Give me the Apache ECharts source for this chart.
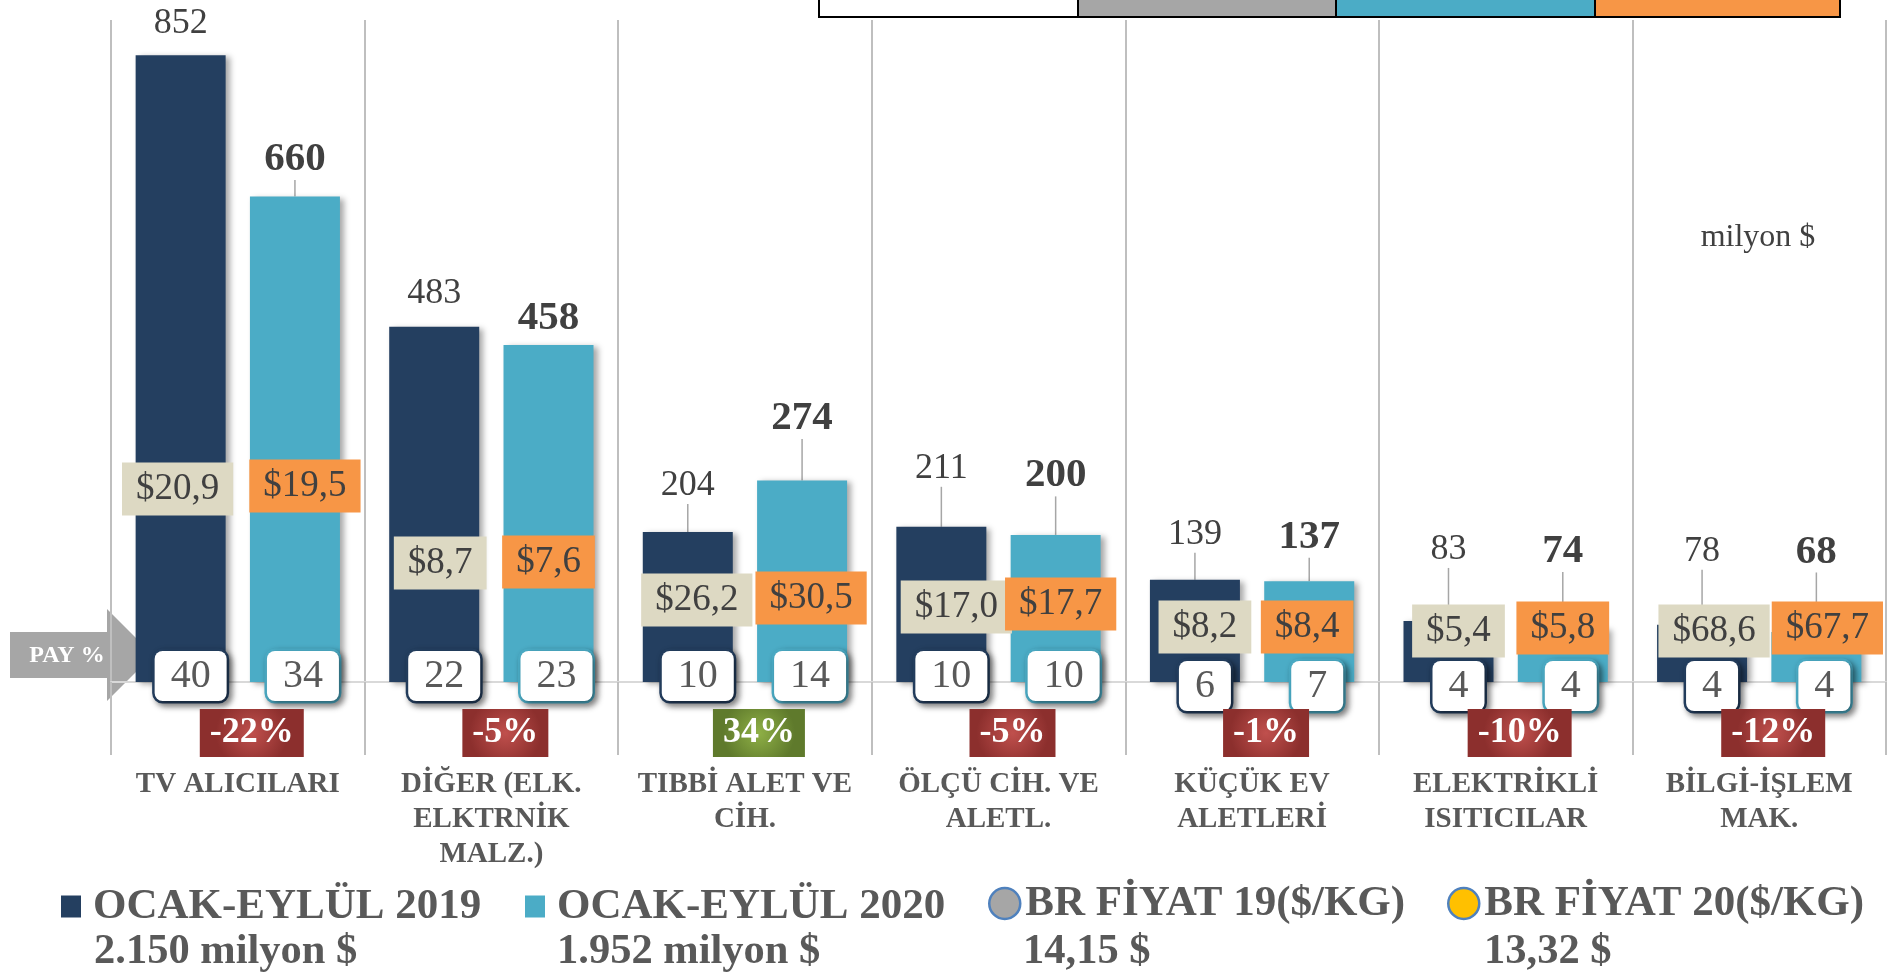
<!DOCTYPE html>
<html>
<head>
<meta charset="utf-8">
<script src="https://cdn.jsdelivr.net/npm/echarts/dist/echarts.min.js"></script>
<style>
  html, body { margin: 0; padding: 0; background: #fff; }
  #chart { width: 1892px; height: 977px; }
</style>
</head>
<body>
<div id="chart"></div>
<script>
// data
var categories = ['TV ALICILARI', 'DİĞER (ELK.\nELKTRNİK\nMALZ.)', 'TIBBİ ALET VE\nCİH.', 'ÖLÇÜ CİH. VE\nALETL.', 'KÜÇÜK EV\nALETLERİ', 'ELEKTRİKLİ\nISITICILAR', 'BİLGİ-İŞLEM\nMAK.'];
var exports2019 = [852, 483, 204, 211, 139, 83, 78];
var exports2020 = [660, 458, 274, 200, 137, 74, 68];
var share2019 = [40, 22, 10, 10, 6, 4, 4];
var share2020 = [34, 23, 14, 10, 7, 4, 4];
var price2019 = [20.9, 8.7, 26.2, 17.0, 8.2, 5.4, 68.6];
var price2020 = [19.5, 7.6, 30.5, 17.7, 8.4, 5.8, 67.7];
var changePct = [-22, -5, 34, -5, -1, -10, -12];
var legendNames = ['OCAK-EYLÜL 2019', 'OCAK-EYLÜL 2020', 'BR FİYAT 19($/KG)', 'BR FİYAT 20($/KG)'];
var legendTotals = ['2.150 milyon $', '1.952 milyon $', '14,15 $', '13,32 $'];

// label placement (pixels), as dragged by hand in the original
var valueLift19 = [32, 33, 46, 58, 45, 71, 73];
var valueLift20 = [37, 27, 62, 59, 44, 76, 80];
var priceLift19 = [193, 119, 82, 75, 55, 51, 51];
var priceLift20 = [196, 120, 84, 78, 55, 54, 54];
var priceShift19 = [-3, 6, 9, 15, 10, 10, 12];
var priceShift20 = [10, 0, 9, 5, -2, 0, 11];
var payDrop = [0, 0, 0, 0, 10, 10, 10];

var FONT = '"Liberation Serif", "Times New Roman", serif';
var DARK = '#243f60';
var TEAL = '#4bacc6';
var TEXT = '#404040';
var GREY_TEXT = '#595959';

var chart = echarts.init(document.getElementById('chart'));

function valueLayout(lift) {
  return function (p) {
    var r = p.rect;
    return { x: r.x + r.width / 2, y: r.y - lift[p.dataIndex], align: 'center', verticalAlign: 'middle' };
  };
}
function priceLayout(lift, shift) {
  return function (p) {
    var r = p.rect;
    return { x: r.x + r.width / 2 + shift[p.dataIndex], y: r.y + r.height - lift[p.dataIndex], align: 'center', verticalAlign: 'middle' };
  };
}
function payLayout(dx) {
  return function (p) {
    var r = p.rect;
    return { x: r.x + r.width / 2 + dx, y: r.y + r.height - 6 + payDrop[p.dataIndex], align: 'center', verticalAlign: 'middle' };
  };
}
function fmtPrice(p) {
  return '$' + p.value.toFixed(1).replace('.', ',');
}
// short hops between label and bar get no leader line
function withLines(values, lift) {
  return values.map(function (v, i) {
    return { value: v, labelLine: { show: lift[i] > 36 } };
  });
}

var hiddenX = function () {
  return { type: 'category', data: categories, show: false, gridIndex: 0 };
};

var redBox = {
  type: 'radial', x: 0.5, y: 0.5, r: 0.75,
  colorStops: [{ offset: 0, color: '#c0504d' }, { offset: 1, color: '#8c2f2d' }]
};
var greenBox = {
  type: 'radial', x: 0.5, y: 0.5, r: 0.75,
  colorStops: [{ offset: 0, color: '#8fb046' }, { offset: 1, color: '#5f7a2c' }]
};

var payLabel = function (border) {
  return {
    show: true,
    formatter: '{c}',
    fontFamily: FONT,
    fontSize: 40,
    color: GREY_TEXT,
    backgroundColor: '#fff',
    borderColor: border,
    borderWidth: 2.5,
    borderRadius: 8,
    padding: [7, 16, 3, 16],
    shadowColor: 'rgba(0,0,0,0.45)',
    shadowBlur: 6,
    shadowOffsetX: 3,
    shadowOffsetY: 3
  };
};
var priceLabel = function (bg) {
  return {
    show: true,
    formatter: fmtPrice,
    fontFamily: FONT,
    fontSize: 37,
    color: TEXT,
    backgroundColor: bg,
    padding: [10, 14, 6, 14]
  };
};
var clear = { color: 'rgba(0,0,0,0)' };

var option = {
  animation: false,
  backgroundColor: '#fff',
  grid: { left: 111, right: 6, top: 20, bottom: 295, containLabel: false, outerBoundsMode: 'none' },
  xAxis: [{
    type: 'category',
    data: categories,
    axisLine: { lineStyle: { color: '#d9d9d9', width: 2 } },
    axisTick: { show: true, length: 73, lineStyle: { color: '#bfbfbf', width: 2 } },
    splitLine: { show: true, lineStyle: { color: '#bfbfbf', width: 2 } },
    axisLabel: {
      interval: 0,
      margin: 85,
      fontFamily: FONT,
      fontSize: 29,
      fontWeight: 'bold',
      color: GREY_TEXT,
      lineHeight: 35
    }
  }, hiddenX(), hiddenX(), hiddenX()],
  yAxis: { type: 'value', min: 0, max: 900, show: false },
  legend: [0, 1, 2, 3].map(function (i) {
    var icons = ['rect', 'rect', 'circle', 'circle'];
    var fills = [DARK, TEAL, '#a6a6a6', '#ffc000'];
    var round = i > 1;
    return {
      left: [61, 525, 988, 1447][i],
      top: round ? 882 : 885,
      padding: 0,
      selectedMode: false,
      itemWidth: round ? 31 : 20,
      itemHeight: round ? 31 : 22,
      textStyle: {
        fontFamily: FONT, fontSize: 43, fontWeight: 'bold', color: GREY_TEXT,
        padding: [round ? 8 : 0, 0, 0, round ? 0 : 7]
      },
      data: [{
        name: legendNames[i],
        icon: icons[i],
        itemStyle: round
          ? { color: fills[i], borderColor: '#4f81bd', borderWidth: 2.5, shadowBlur: 0 }
          : { color: fills[i], borderWidth: 0, shadowBlur: 0 }
      }]
    };
  }),
  graphic: [
    // summary table cut at the top edge
    { type: 'rect', shape: { x: 819, y: -10, width: 259, height: 27 }, style: { fill: '#fff', stroke: '#000', lineWidth: 2 } },
    { type: 'rect', shape: { x: 1078, y: -10, width: 258, height: 27 }, style: { fill: '#a6a6a6', stroke: '#000', lineWidth: 2 } },
    { type: 'rect', shape: { x: 1336, y: -10, width: 259, height: 27 }, style: { fill: TEAL, stroke: '#000', lineWidth: 2 } },
    { type: 'rect', shape: { x: 1595, y: -10, width: 245, height: 27 }, style: { fill: '#f79646', stroke: '#000', lineWidth: 2 } },
    // PAY % arrow
    {
      type: 'polygon',
      shape: { points: [[10, 632], [107, 632], [107, 609], [153, 655], [107, 701], [107, 678], [10, 678]] },
      style: { fill: '#a6a6a6' }
    },
    { type: 'text', x: 67, y: 656, style: { text: 'PAY %', fill: '#fff', font: 'bold 24px ' + FONT, align: 'center', verticalAlign: 'middle' } },
    { type: 'text', x: 1758, y: 238, style: { text: 'milyon $', fill: TEXT, font: '32px ' + FONT, align: 'center', verticalAlign: 'middle' } }
  ].concat(legendTotals.map(function (t, i) {
    return {
      type: 'text', x: [94, 557, 1023, 1484][i], y: 952,
      style: { text: t, fill: GREY_TEXT, font: 'bold 42.5px ' + FONT, align: 'left', verticalAlign: 'middle' }
    };
  })),
  series: [
    {
      name: legendNames[0],
      type: 'bar',
      data: withLines(exports2019, valueLift19),
      barWidth: 90,
      barGap: '27%',
      itemStyle: { color: DARK, shadowColor: 'rgba(0,0,0,0.35)', shadowBlur: 6, shadowOffsetX: 4, shadowOffsetY: 2 },
      label: { show: true, position: 'top', fontFamily: FONT, fontSize: 36, color: TEXT },
      labelLine: { show: true, lineStyle: { color: '#a6a6a6', width: 1.5 } },
      labelLayout: valueLayout(valueLift19),
      emphasis: { disabled: true }
    },
    {
      name: legendNames[1],
      type: 'bar',
      data: withLines(exports2020, valueLift20),
      barWidth: 90,
      barGap: '27%',
      itemStyle: { color: TEAL, shadowColor: 'rgba(0,0,0,0.35)', shadowBlur: 6, shadowOffsetX: 4, shadowOffsetY: 2 },
      label: { show: true, position: 'top', fontFamily: FONT, fontSize: 41, fontWeight: 'bold', color: TEXT },
      labelLine: { show: true, lineStyle: { color: '#a6a6a6', width: 1.5 } },
      labelLayout: valueLayout(valueLift20),
      emphasis: { disabled: true }
    },
    {
      name: 'pay19', type: 'bar', xAxisIndex: 1, data: share2019, barWidth: 90, barGap: '27%', silent: true,
      itemStyle: clear, label: payLabel(DARK), labelLayout: payLayout(10)
    },
    {
      name: 'pay20', type: 'bar', xAxisIndex: 1, data: share2020, barWidth: 90, barGap: '27%', silent: true,
      itemStyle: clear, label: payLabel(TEAL), labelLayout: payLayout(8)
    },
    {
      name: legendNames[2], type: 'bar', xAxisIndex: 2, data: price2019, barWidth: 90, barGap: '27%', silent: true,
      itemStyle: clear, label: priceLabel('#ddd9c3'), labelLayout: priceLayout(priceLift19, priceShift19)
    },
    {
      name: legendNames[3], type: 'bar', xAxisIndex: 2, data: price2020, barWidth: 90, barGap: '27%', silent: true,
      itemStyle: clear, label: priceLabel('#f79646'), labelLayout: priceLayout(priceLift20, priceShift20)
    },
    {
      name: 'change', type: 'bar', xAxisIndex: 3, barWidth: 90, silent: true,
      data: changePct.map(function (v) {
        return { value: v, label: { backgroundColor: v >= 0 ? greenBox : redBox } };
      }),
      itemStyle: clear,
      label: {
        show: true,
        formatter: function (p) { return p.value + '%'; },
        fontFamily: FONT, fontSize: 36, fontWeight: 'bold', color: '#fff',
        padding: [8, 10, 4, 10]
      },
      labelLayout: function (p) {
        var r = p.rect;
        var base = changePct[p.dataIndex] >= 0 ? r.y + r.height : r.y;
        return { x: r.x + r.width / 2 + 14, y: base + 51, align: 'center', verticalAlign: 'middle' };
      }
    }
  ]
};

chart.setOption(option);
</script>
</body>
</html>
